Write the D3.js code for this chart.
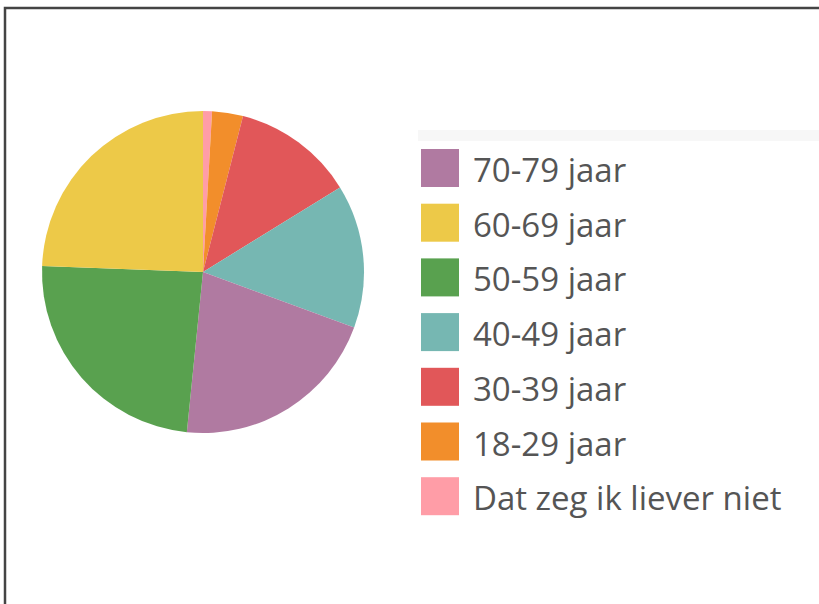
<!DOCTYPE html>
<html>
<head>
<meta charset="utf-8">
<script src="https://cdn.jsdelivr.net/npm/d3@7"></script>
<style>
  body { margin: 0; background: #fff; }
  svg { display: block; }
</style>
</head>
<body>
<div id="chart"></div>
<script>
// data: share per age group (clockwise from 12 o'clock)
const pieOrder = ["Dat zeg ik liever niet", "18-29 jaar", "30-39 jaar", "40-49 jaar", "70-79 jaar", "50-59 jaar", "60-69 jaar"];
const pieValues = [0.9, 3.1, 12.2, 14.4, 21.0, 24.0, 24.4];

// legend order as shown on the right
const legendLabels = ["70-79 jaar", "60-69 jaar", "50-59 jaar", "40-49 jaar", "30-39 jaar", "18-29 jaar", "Dat zeg ik liever niet"];
const legendColors = ["#b07aa1", "#edc948", "#59a14f", "#76b7b2", "#e15759", "#f28e2b", "#ff9da7"];

const width = 819, height = 604;

const svg = d3.select("#chart").append("svg")
  .attr("width", width)
  .attr("height", height);

// frame (only top and left edge visible)
svg.append("path")
  .attr("d", "M5,604 V8 H819")
  .attr("fill", "none")
  .attr("stroke", "#444")
  .attr("stroke-width", 2.5);

const color = d3.scaleOrdinal()
  .domain(legendLabels)
  .range(legendColors);

const data = pieOrder.map((k, i) => ({ key: k, value: pieValues[i] }));

const pie = d3.pie()
  .sort(null)
  .value(d => d.value);

const arc = d3.arc()
  .innerRadius(0)
  .outerRadius(161);

svg.append("g")
  .attr("transform", "translate(203,272)")
  .selectAll("path")
  .data(pie(data))
  .enter().append("path")
  .attr("d", arc)
  .attr("fill", d => color(d.data.key));

// legend
svg.append("rect")
  .attr("x", 418).attr("y", 130)
  .attr("width", 401).attr("height", 11)
  .attr("fill", "#f7f7f7");

const rows = svg.append("g").selectAll("g")
  .data(legendLabels)
  .enter().append("g")
  .attr("transform", (d, i) => "translate(0," + (149 + i * 54.7) + ")");

rows.append("rect")
  .attr("x", 421)
  .attr("width", 38)
  .attr("height", 38)
  .attr("fill", d => color(d));

rows.append("text")
  .attr("x", 473)
  .attr("y", 33)
  .style("font-family", "'Open Sans', sans-serif")
  .style("font-size", "33px")
  .style("fill", "#555")
  .text(d => d);
</script>
</body>
</html>
